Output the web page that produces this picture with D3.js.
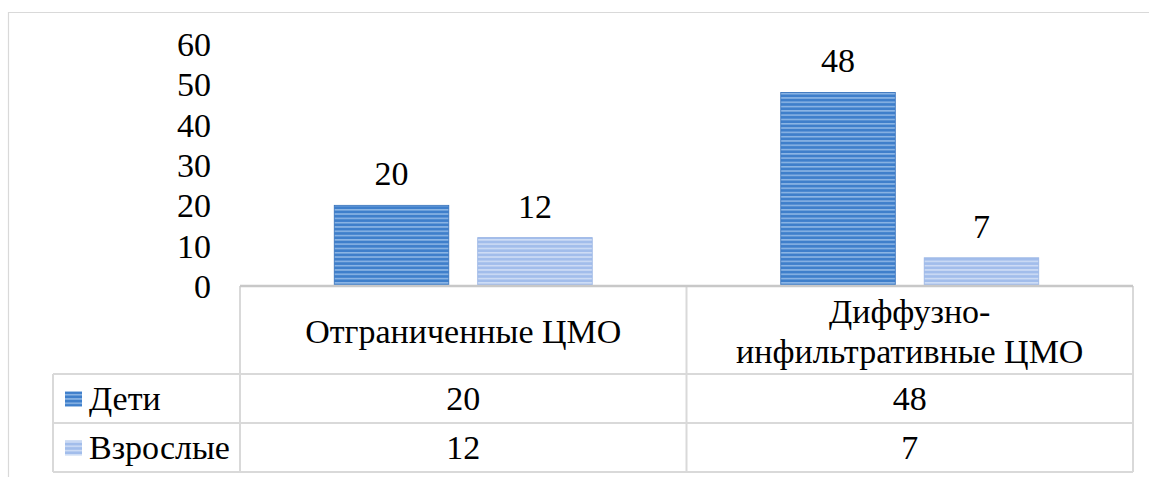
<!DOCTYPE html>
<html>
<head>
<meta charset="utf-8">
<script src="https://cdn.jsdelivr.net/npm/d3@7"></script>
<style>
  html, body { margin: 0; padding: 0; background: #fff; }
  svg { display: block; }
</style>
</head>
<body>
<svg id="chart" width="1149" height="477"></svg>
<script>
// Data
const categories = [["Отграниченные ЦМО"], ["Диффузно-", "инфильтративные ЦМО"]];
const seriesNames = ["Дети", "Взрослые"];
const deti = [20, 48];
const vzroslye = [12, 7];
const yTicks = [0, 10, 20, 30, 40, 50, 60];

const series = [
  { name: seriesNames[0], values: deti, fill: "url(#stripeDark)" },
  { name: seriesNames[1], values: vzroslye, fill: "url(#stripeLight)" }
];

const svg = d3.select("#chart");
const W = 1149, H = 477;
const FONT = "Liberation Serif, Tinos, Times New Roman, DejaVu Serif, serif";
const fontSize = 34;

function styleText(sel) {
  return sel.attr("font-family", FONT).style("font-family", FONT)
    .attr("font-size", fontSize).style("font-size", fontSize + "px").attr("fill", "#000");
}

// Layout
const plotLeft = 240, plotRight = 1133;
const plotTop = 44, plotBottom = 286;
const headerBottom = 374, row1Bottom = 423, row2Bottom = 472;
const legendLeft = 53;

// Stripe patterns for the bars
const defs = svg.append("defs");
function stripes(id, base, line) {
  const p = defs.append("pattern")
    .attr("id", id).attr("patternUnits", "userSpaceOnUse")
    .attr("width", 8).attr("height", 4.3);
  p.append("rect").attr("width", 8).attr("height", 4.3).attr("fill", base);
  p.append("rect").attr("y", 2.6).attr("width", 8).attr("height", 1.5).attr("fill", line);
}
stripes("stripeDark", "#3f7fcb", "#8fb7e6");
stripes("stripeLight", "#a2bdeb", "#d0def6");

// Outer chart frame
svg.append("line").attr("x1", 8).attr("x2", W).attr("y1", 12.5).attr("y2", 12.5)
  .attr("stroke", "#d9d9d9").attr("stroke-width", 1.2);
svg.append("line").attr("x1", 8.5).attr("x2", 8.5).attr("y1", 12).attr("y2", H)
  .attr("stroke", "#d9d9d9").attr("stroke-width", 1.2);

// Scales
const x0 = d3.scaleBand().domain(d3.range(categories.length))
  .range([plotLeft, plotRight]).paddingInner(0).paddingOuter(0);
const groupWidth = 258;
const x1 = d3.scaleBand().domain(d3.range(series.length))
  .range([0, groupWidth]).paddingInner(26 / 129).paddingOuter(0);
const y = d3.scaleLinear().domain([0, 60]).range([plotBottom, plotTop]);

// Y axis labels
const yAxis = d3.axisLeft(y).tickValues(yTicks).tickSize(0).tickPadding(0);
const yg = svg.append("g").attr("transform", `translate(211,0)`).call(yAxis);
yg.attr("font-family", FONT);
yg.select(".domain").remove();
styleText(yg.selectAll("text")).attr("dy", "0.34em");

// Bars
const groups = svg.append("g").selectAll("g")
  .data(categories.map((c, i) => i)).join("g")
  .attr("transform", i => `translate(${x0(i) + (x0.bandwidth() - groupWidth) / 2},0)`);

series.forEach((s, si) => {
  groups.append("rect")
    .attr("x", x1(si)).attr("width", x1.bandwidth())
    .attr("y", i => y(s.values[i])).attr("height", i => y(0) - y(s.values[i]))
    .attr("fill", s.fill)
    .attr("stroke", si === 0 ? "#3470ba" : "#98b4e4").attr("stroke-width", 0.8);
  styleText(groups.append("text"))
    .attr("x", x1(si) + x1.bandwidth() / 2)
    .attr("y", i => y(s.values[i]) - 20)
    .attr("text-anchor", "middle")
    .text(i => s.values[i]);
});

// Data table grid
const grid = svg.append("g").attr("stroke", "#d9d9d9").attr("stroke-width", 2).attr("fill", "none");
svg.append("line").attr("x1", plotLeft).attr("x2", plotRight)
  .attr("y1", plotBottom).attr("y2", plotBottom)
  .attr("stroke", "#c8c8c8").attr("stroke-width", 2.5);
[headerBottom, row1Bottom, row2Bottom].forEach(yy => {
  grid.append("line").attr("x1", legendLeft).attr("x2", plotRight).attr("y1", yy).attr("y2", yy);
});
grid.append("line").attr("x1", legendLeft).attr("x2", legendLeft).attr("y1", headerBottom).attr("y2", row2Bottom);
[plotLeft, x0(1), plotRight].forEach(xx => {
  grid.append("line").attr("x1", xx).attr("x2", xx).attr("y1", plotBottom).attr("y2", row2Bottom);
});

// Category header cells
categories.forEach((lines, i) => {
  const cx = x0(i) + x0.bandwidth() / 2;
  const cy = (plotBottom + headerBottom) / 2 + 1;
  const lh = 40;
  const t = styleText(svg.append("text")).attr("text-anchor", "middle");
  lines.forEach((ln, k) => {
    t.append("tspan").attr("x", cx)
      .attr("y", cy + (k - (lines.length - 1) / 2) * lh)
      .attr("dy", "0.34em").text(ln);
  });
});

// Series rows: legend key, name and values
const rowTops = [headerBottom, row1Bottom];
const rowBottoms = [row1Bottom, row2Bottom];
series.forEach((s, si) => {
  const cy = (rowTops[si] + rowBottoms[si]) / 2;
  svg.append("rect").attr("x", 65).attr("y", cy - 7).attr("width", 17).attr("height", 15)
    .attr("fill", s.fill);
  styleText(svg.append("text")).attr("x", 89).attr("y", cy).attr("dy", "0.34em").text(s.name);
  s.values.forEach((v, i) => {
    styleText(svg.append("text")).attr("x", x0(i) + x0.bandwidth() / 2).attr("y", cy)
      .attr("dy", "0.34em").attr("text-anchor", "middle").text(v);
  });
});
</script>
</body>
</html>
